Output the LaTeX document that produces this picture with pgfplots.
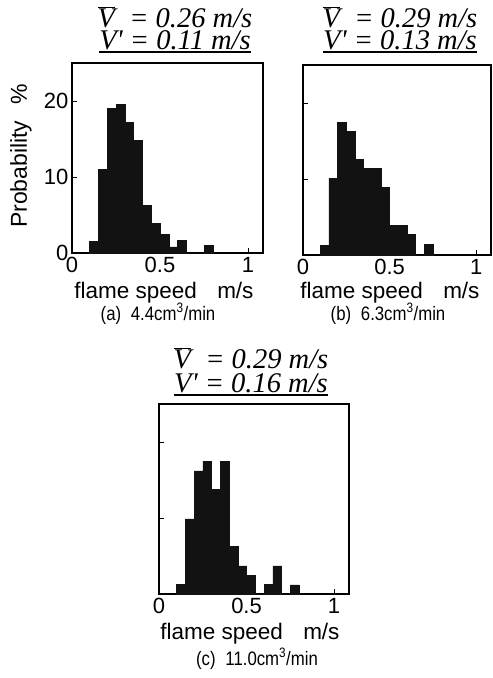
\documentclass[border=0pt]{standalone}
\usepackage{fontspec}
\setmainfont{Liberation Sans}
\newfontfamily\tfont{Liberation Serif}
\newfontfamily\capfont[FakeStretch=0.86]{Liberation Sans}
\usepackage{pgfplots}
\pgfplotsset{compat=1.18}
\pgfplotsset{panel/.style={
  scale only axis, anchor=south west,
  xmin=0, xmax=1.085, ymin=0, ymax=25,
  xtick={0,0.5,1}, ytick={0,10,20},
  xticklabels={0,0.5,1},
  tick pos=left,
  major tick length=5pt,
  tick style={line width=0.9pt, black},
  axis line style={line width=1.3pt},
  tick label style={font=\fontsize{22}{24}\selectfont},
  xticklabel style={yshift=-1pt},
}, bars/.style={ybar interval, fill=black!93, draw=black!93, line width=0.5pt}}
\newcommand{\ttl}[1]{\fontsize{28.5}{30}\selectfont\tfont\itshape #1}
\begin{document}
\begin{tikzpicture}
\path (0,0) rectangle (493pt,-678pt);
% (a)
\begin{axis}[panel, at={(72pt,-253pt)}, width=191pt, height=190pt,
  yticklabels={0,10,20}]
\addplot[bars] coordinates {
(0.10,1.5) (0.15,11) (0.20,19) (0.25,19.6) (0.30,17.2) (0.35,14.8)
(0.40,6.3) (0.45,3.9) (0.50,2.5) (0.55,0.8) (0.60,1.7) (0.65,0)
(0.70,0) (0.75,1.0) (0.80,0)};
\end{axis}
% (b)
\begin{axis}[panel, at={(303pt,-255pt)}, width=188pt, height=190pt,
  yticklabels={}]
\addplot[bars] coordinates {
(0.10,1.3) (0.15,10.1) (0.20,17.5) (0.25,16.3) (0.30,12.6) (0.35,11.4)
(0.40,11.4) (0.45,8.9) (0.50,3.85) (0.55,3.85) (0.60,2.7) (0.65,0)
(0.70,1.4) (0.75,0)};
\end{axis}
% (c)
\begin{axis}[panel, at={(159pt,-594pt)}, width=190pt, height=190pt,
  yticklabels={}]
\addplot[bars] coordinates {
(0.10,1.3) (0.15,9.9) (0.20,16.2) (0.25,17.5) (0.30,13.8) (0.35,17.5)
(0.40,6.3) (0.45,3.7) (0.50,2.5) (0.55,0) (0.60,1.3) (0.65,3.7)
(0.70,0) (0.75,1.2) (0.80,0)};
\end{axis}
% y label
\node[rotate=90, font=\fontsize{23}{25}\selectfont] at (21pt,-156pt) {Probability\hspace{0.7em}\%};
% titles
\node[anchor=base, inner sep=0] at (175pt,-27pt) {\ttl{$\overline{\hbox{\ttl{V}}}$\ \ = 0.26 m/s}};
\node[anchor=base, inner sep=0] (ta) at (175pt,-49pt) {\ttl{V' = 0.11 m/s}};
\draw[line width=1.2pt] ([yshift=-3pt]ta.base west) -- ([yshift=-3pt]ta.base east);
\node[anchor=base, inner sep=0] at (400pt,-27pt) {\ttl{$\overline{\hbox{\ttl{V}}}$\ \ = 0.29 m/s}};
\node[anchor=base, inner sep=0] (tb) at (400pt,-49pt) {\ttl{V' = 0.13 m/s}};
\draw[line width=1.2pt] ([yshift=-3pt]tb.base west) -- ([yshift=-3pt]tb.base east);
\node[anchor=base, inner sep=0] at (251pt,-368pt) {\ttl{$\overline{\hbox{\ttl{V}}}$\ \ = 0.29 m/s}};
\node[anchor=base, inner sep=0] (tc) at (251pt,-392pt) {\ttl{V' = 0.16 m/s}};
\draw[line width=1.2pt] ([yshift=-3pt]tc.base west) -- ([yshift=-3pt]tc.base east);
% x labels
\node[font=\fontsize{22.5}{25}\selectfont] at (164pt,-293pt) {flame speed\hspace{0.9em}m/s};
\node[font=\fontsize{22.5}{25}\selectfont] at (390pt,-293pt) {flame speed\hspace{0.9em}m/s};
\node[font=\fontsize{22.5}{25}\selectfont] at (250pt,-634pt) {flame speed\hspace{0.9em}m/s};
% captions
\node[font=\fontsize{19.5}{21}\selectfont\capfont] at (158pt,-314pt) {(a)\hspace{0.5em}4.4cm\textsuperscript{3}/min};
\node[font=\fontsize{19.5}{21}\selectfont\capfont] at (388pt,-314pt) {(b)\hspace{0.5em}6.3cm\textsuperscript{3}/min};
\node[font=\fontsize{19.5}{21}\selectfont\capfont] at (257pt,-659pt) {(c)\hspace{0.5em}11.0cm\textsuperscript{3}/min};
\end{tikzpicture}
\end{document}
